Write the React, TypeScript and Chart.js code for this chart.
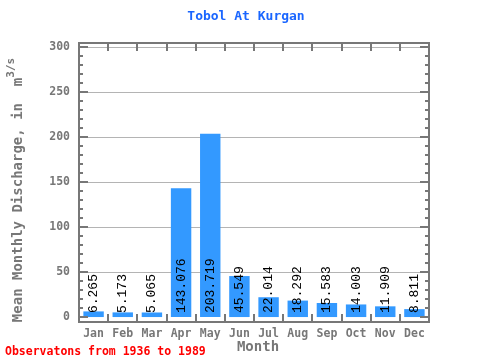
import React, { useEffect, useRef } from "react";
import { Chart, registerables } from "chart.js";

Chart.register(...registerables);

const months = ["Jan", "Feb", "Mar", "Apr", "May", "Jun", "Jul", "Aug", "Sep", "Oct", "Nov", "Dec"];
const discharge = [6.265, 5.173, 5.065, 143.076, 203.719, 45.549, 22.014, 18.292, 15.583, 14.003, 11.909, 8.811];
const yTickValues = [0, 50, 100, 150, 200, 250, 300];
const titleText = "Tobol At Kurgan";
const xTitle = "Month";
const yTitle = "Mean Monthly Discharge, in  m";
const yTitleSup = "3/s";
const footer = "Observatons from 1936 to 1989";

const MONO = "'DejaVu Sans Mono', 'Liberation Mono', monospace";
const THIN = "'Liberation Mono', 'DejaVu Sans Mono', monospace";
const FRAME = "#777777";

const decorPlugin = {
  id: "decor",
  beforeDatasetsDraw(chart: any) {
    const { ctx, chartArea } = chart;
    const y = chart.scales.y;
    ctx.save();
    ctx.strokeStyle = "#b4b4b4";
    ctx.lineWidth = 1;
    for (const v of yTickValues) {
      if (v === 0) continue;
      const py = Math.round(y.getPixelForValue(v)) + 0.5;
      ctx.beginPath();
      ctx.moveTo(chartArea.left, py);
      ctx.lineTo(chartArea.right, py);
      ctx.stroke();
    }
    ctx.restore();
  },
  afterDatasetsDraw(chart: any) {
    const { ctx, chartArea } = chart;
    const y = chart.scales.y;
    const x = chart.scales.x;
    ctx.save();
    // value labels
    const meta = chart.getDatasetMeta(0);
    ctx.fillStyle = "#000";
    ctx.font = `13px ${THIN}`;
    ctx.textAlign = "left";
    ctx.textBaseline = "middle";
    meta.data.forEach((bar: any, i: number) => {
      const base = y.getPixelForValue(0) - 4;
      ctx.save();
      ctx.translate(bar.x, base);
      ctx.rotate(-Math.PI / 2);
      ctx.fillText(discharge[i].toFixed(3), 0, 0);
      ctx.restore();
    });
    // frame
    ctx.strokeStyle = FRAME;
    ctx.lineWidth = 2;
    ctx.strokeRect(chartArea.left, chartArea.top, chartArea.right - chartArea.left, chartArea.bottom - chartArea.top);
    // y ticks (major + minor), left and right
    ctx.lineWidth = 2;
    for (let v = 0; v <= 300; v += 10) {
      const py = Math.round(y.getPixelForValue(v));
      const len = v % 50 === 0 ? 9 : 4;
      ctx.beginPath();
      ctx.moveTo(chartArea.left, py);
      ctx.lineTo(chartArea.left + len, py);
      ctx.moveTo(chartArea.right, py);
      ctx.lineTo(chartArea.right - len, py);
      ctx.stroke();
    }
    // x category boundary ticks
    for (let i = 1; i < months.length; i++) {
      const px = Math.round((x.getPixelForValue(i - 1) + x.getPixelForValue(i)) / 2);
      ctx.beginPath();
      ctx.moveTo(px, chartArea.bottom);
      ctx.lineTo(px, chartArea.bottom - 8);
      ctx.moveTo(px, chartArea.top);
      ctx.lineTo(px, chartArea.top + 8);
      ctx.stroke();
    }
    ctx.restore();
  },
  afterDraw(chart: any) {
    const { ctx, chartArea } = chart;
    ctx.save();
    // title
    ctx.fillStyle = "#1a66ff";
    ctx.font = `bold 13px ${MONO}`;
    ctx.textAlign = "center";
    ctx.textBaseline = "middle";
    ctx.fillText(titleText, 246, 17);
    // x title
    ctx.fillStyle = "#777777";
    ctx.font = `bold 14px ${MONO}`;
    ctx.fillText(xTitle, (chartArea.left + chartArea.right) / 2 + 4, 347);
    // y title
    ctx.save();
    ctx.translate(18, 190);
    ctx.rotate(-Math.PI / 2);
    ctx.font = `bold 14px ${MONO}`;
    const w1 = ctx.measureText(yTitle).width;
    ctx.font = `bold 11px ${MONO}`;
    const w2 = ctx.measureText(yTitleSup).width;
    const total = w1 + w2;
    ctx.textAlign = "left";
    ctx.font = `bold 14px ${MONO}`;
    ctx.fillText(yTitle, -total / 2, 0);
    ctx.font = `bold 11px ${MONO}`;
    ctx.fillText(yTitleSup, -total / 2 + w1, -7);
    ctx.restore();
    // footer
    ctx.fillStyle = "#ff0000";
    ctx.font = `bold 11.5px ${MONO}`;
    ctx.textAlign = "left";
    ctx.fillText(footer, 5, 352);
    ctx.restore();
  },
};

export default function App() {
  const ref = useRef<HTMLCanvasElement>(null);
  useEffect(() => {
    document.body.style.margin = "0";
    const chart = new Chart(ref.current as HTMLCanvasElement, {
      type: "bar",
      data: {
        labels: months,
        datasets: [
          {
            data: discharge,
            backgroundColor: "#3399ff",
            borderWidth: 0,
            categoryPercentage: 0.7,
            barPercentage: 1,
          },
        ],
      },
      options: {
        animation: false,
        responsive: false,
        maintainAspectRatio: false,
        layout: { padding: { left: 0, top: 43, right: 51, bottom: 0 } },
        plugins: { legend: { display: false }, title: { display: false }, tooltip: { enabled: false } },
        scales: {
          x: {
            grid: { display: false, drawTicks: false },
            border: { display: false },
            ticks: {
              color: "#777777",
              font: { family: MONO, size: 11.5, weight: "bold" },
              padding: 5,
              maxRotation: 0,
              autoSkip: false,
            },
            afterFit(scale: any) {
              scale.height = 38;
            },
          },
          y: {
            min: -5.5,
            max: 304.5,
            grid: { display: false, drawTicks: false },
            border: { display: false },
            afterBuildTicks(scale: any) {
              scale.ticks = yTickValues.map((v) => ({ value: v }));
            },
            ticks: {
              color: "#777777",
              font: { family: MONO, size: 11.5, weight: "bold" },
              padding: 9,
            },
            afterFit(scale: any) {
              scale.width = 79;
            },
          },
        },
      },
      plugins: [decorPlugin],
    } as any);
    return () => chart.destroy();
  }, []);
  return (
    <div style={{ position: "absolute", left: 0, top: 0, width: 480, height: 360 }}>
      <canvas ref={ref} width={480} height={360} />
    </div>
  );
}
